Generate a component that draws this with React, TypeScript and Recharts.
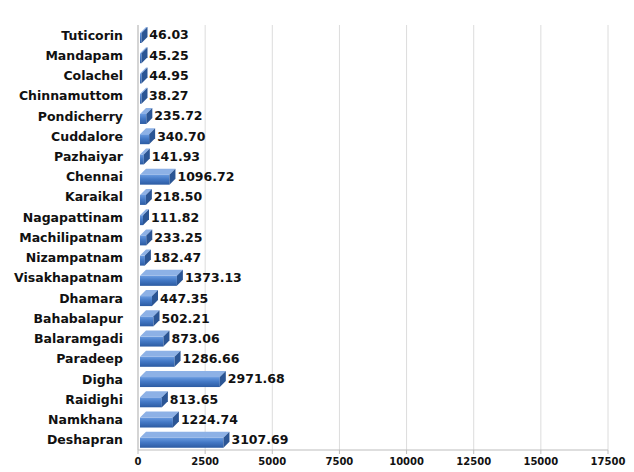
import React from "react";
import { BarChart, Bar, XAxis, YAxis, CartesianGrid, LabelList } from "recharts";

const ports = [
  "Tuticorin", "Mandapam", "Colachel", "Chinnamuttom", "Pondicherry", "Cuddalore", "Pazhaiyar",
  "Chennai", "Karaikal", "Nagapattinam", "Machilipatnam", "Nizampatnam", "Visakhapatnam",
  "Dhamara", "Bahabalapur", "Balaramgadi", "Paradeep", "Digha", "Raidighi", "Namkhana", "Deshapran",
];
const values = [
  46.03, 45.25, 44.95, 38.27, 235.72, 340.7, 141.93,
  1096.72, 218.5, 111.82, 233.25, 182.47, 1373.13,
  447.35, 502.21, 873.06, 1286.66, 2971.68, 813.65, 1224.74, 3107.69,
];
const xTicks = [0, 2500, 5000, 7500, 10000, 12500, 15000, 17500];

const data = ports.map((name, i) => ({ name, value: values[i] }));

const DEPTH = 6;

const Bar3D = (props: any) => {
  const { x, y, width, height } = props;
  const d = DEPTH;
  const bx = x + 2;
  const w = Math.max(width, 1.5);
  return (
    <g>
      <rect x={bx} y={y + d} width={w} height={height - d} fill="url(#frontGrad)" />
      <polygon
        points={`${bx},${y + d} ${bx + d},${y} ${bx + w + d},${y} ${bx + w},${y + d}`}
        fill="#8db1e6"
      />
      <polygon
        points={`${bx + w},${y + d} ${bx + w + d},${y} ${bx + w + d},${y + height - d} ${bx + w},${y + height}`}
        fill="#2b5594"
      />
    </g>
  );
};

export default function App() {
  return (
    <div style={{ position: "absolute", left: 0, top: 0, background: "#fff" }}>
      <BarChart
        width={634}
        height={472}
        data={data}
        layout="vertical"
        margin={{ top: 25, right: 26, bottom: 0, left: 0 }}
        barSize={16}
      >
        <defs>
          <linearGradient id="frontGrad" x1="0" y1="0" x2="0" y2="1">
            <stop offset="0%" stopColor="#6a9be0" />
            <stop offset="45%" stopColor="#4479c6" />
            <stop offset="100%" stopColor="#2c5ba2" />
          </linearGradient>
        </defs>
        <CartesianGrid horizontal={false} stroke="#dcdcdc" />
        <XAxis
          type="number"
          domain={[0, 17500]}
          ticks={xTicks}
          interval={0}
          height={22}
          tickSize={4}
          tickMargin={4}
          stroke="#bdbdbd"
          tick={{ fill: "#111", fontSize: 10, fontWeight: "bold", fontFamily: "DejaVu Sans" }}
        />
        <YAxis
          type="category"
          dataKey="name"
          width={138}
          tickSize={0}
          tickMargin={15}
          interval={0}
          stroke="#bdbdbd"
          tick={{ fill: "#111", fontSize: 12.5, fontWeight: "bold", fontFamily: "DejaVu Sans" }}
        />
        <Bar dataKey="value" shape={<Bar3D />} isAnimationActive={false}>
          <LabelList
            dataKey="value"
            position="right"
            offset={DEPTH + 4}
            formatter={(v: any) => Number(v).toFixed(2)}
            style={{ fill: "#111", fontSize: 12.5, fontWeight: "bold", fontFamily: "DejaVu Sans" }}
          />
        </Bar>
      </BarChart>
    </div>
  );
}
